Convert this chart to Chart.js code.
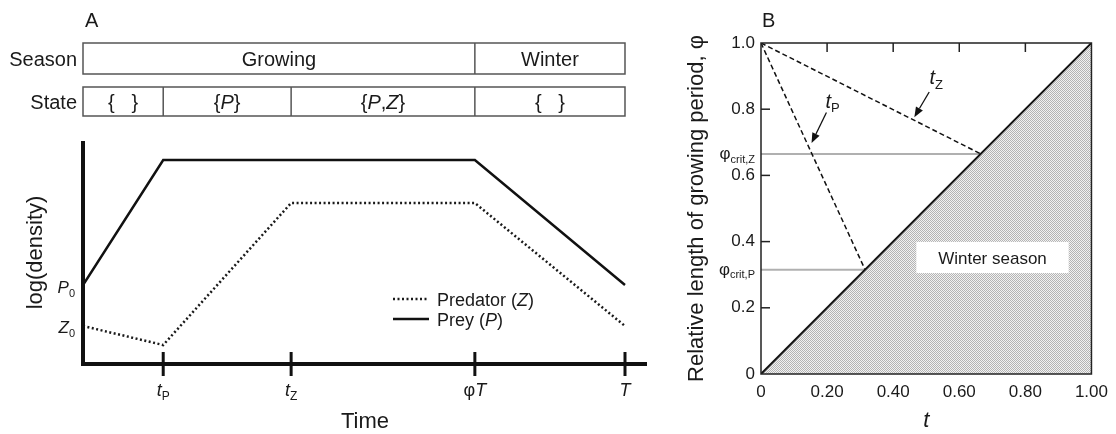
<!DOCTYPE html>
<html>
<head>
<meta charset="utf-8">
<script src="https://cdn.jsdelivr.net/npm/chart.js@4.4.0/dist/chart.umd.min.js"></script>
<style>
  body { margin: 0; background: #fff; }
  #wrap { position: relative; width: 1116px; height: 434px; }
  canvas { position: absolute; top: 0; }
  #panelA { left: 0; }
  #panelB { left: 680px; }
</style>
</head>
<body>
<div id="wrap">
  <canvas id="panelA" width="680" height="434"></canvas>
  <canvas id="panelB" width="436" height="434"></canvas>
</div>
<script>
var fontFamily = '"Liberation Sans", Arial, Helvetica, sans-serif';

// A: time course over one year (time in units of T)
var tickTimes   = [0.148, 0.384, 0.723, 1.0];          // tP, tZ, phiT, T
var tickLabels  = ['*t*_{P}', '*t*_{Z}', '\u03c6*T*', '*T*'];
var seasonNames = ['Growing', 'Winter'];
var stateNames  = ['{   }', '{*P*}', '{*P*,*Z*}', '{   }'];

var preyTime    = [0, 0.148, 0.723, 1.0];
var preyLogDens = [3.95, 10.2, 10.2, 3.95];
var predTime    = [0, 0.148, 0.384, 0.723, 1.0];
var predLogDens = [1.9, 0.95, 8.05, 8.05, 1.9];

// B: critical growing-period lengths
var phiCritP = 0.315;
var phiCritZ = 0.665;

function toPoints(xs, ys) {
  return xs.map(function (x, i) { return { x: x, y: ys[i] }; });
}

// tiny markup: *italic*, _{subscript}
function parseRich(str) {
  var runs = [], italic = false, sub = false, buf = '';
  function push() { if (buf) { runs.push({ text: buf, italic: italic, sub: sub }); buf = ''; } }
  for (var i = 0; i < str.length; i++) {
    var c = str[i];
    if (c === '*') { push(); italic = !italic; }
    else if (c === '_' && str[i + 1] === '{') { push(); sub = true; i++; }
    else if (c === '}' && sub) { push(); sub = false; }
    else buf += c;
  }
  push();
  return runs;
}

function drawRich(ctx, str, x, baseline, size, align, color) {
  var runs = parseRich(str);
  var subSize = Math.round(size * 0.64);
  var total = 0;
  runs.forEach(function (r) {
    r.font = (r.italic ? 'italic ' : '') + (r.sub ? subSize : size) + 'px ' + fontFamily;
    ctx.font = r.font;
    r.w = ctx.measureText(r.text).width;
    total += r.w;
  });
  var cx = align === 'center' ? x - total / 2 : align === 'right' ? x - total : x;
  ctx.save();
  ctx.fillStyle = color || '#1a1a1a';
  ctx.textAlign = 'left';
  ctx.textBaseline = 'alphabetic';
  runs.forEach(function (r) {
    ctx.font = r.font;
    ctx.fillText(r.text, cx, r.sub ? baseline + size * 0.22 : baseline);
    cx += r.w;
  });
  ctx.restore();
}

function drawRow(ctx, xs, edges, names, top, bottom, title, x0) {
  var left = xs.getPixelForValue(edges[0]);
  var right = xs.getPixelForValue(edges[edges.length - 1]);
  ctx.save();
  ctx.strokeStyle = '#555';
  ctx.lineWidth = 1.5;
  ctx.strokeRect(left, top, right - left, bottom - top);
  for (var i = 1; i < edges.length - 1; i++) {
    var x = xs.getPixelForValue(edges[i]);
    ctx.beginPath(); ctx.moveTo(x, top); ctx.lineTo(x, bottom); ctx.stroke();
  }
  ctx.restore();
  var base = (top + bottom) / 2 + 7.5;
  names.forEach(function (n, i) {
    var cx = (xs.getPixelForValue(edges[i]) + xs.getPixelForValue(edges[i + 1])) / 2;
    drawRich(ctx, n, cx, base, 20, 'center');
  });
  drawRich(ctx, title, x0 - 6, base, 20, 'right');
}

var timeAxes = {
  id: 'timeAxes',
  afterDraw: function (chart) {
    var ctx = chart.ctx, xs = chart.scales.x, ys = chart.scales.y, area = chart.chartArea;
    var x0 = xs.getPixelForValue(0), y0 = ys.getPixelForValue(0);

    ctx.save();
    ctx.strokeStyle = '#111';
    ctx.lineWidth = 4;
    ctx.beginPath();
    ctx.moveTo(x0, area.top);
    ctx.lineTo(x0, y0);
    ctx.lineTo(area.right, y0);
    ctx.stroke();
    ctx.lineWidth = 3;
    tickTimes.forEach(function (t, i) {
      var x = xs.getPixelForValue(t);
      ctx.beginPath(); ctx.moveTo(x, y0 - 12); ctx.lineTo(x, y0 + 12); ctx.stroke();
      drawRich(ctx, tickLabels[i], x, y0 + 32, 18, 'center');
    });
    ctx.restore();

    // initial densities
    drawRich(ctx, '*P*_{0}', x0 - 8, ys.getPixelForValue(preyLogDens[0]) + 8, 17, 'right');
    drawRich(ctx, '*Z*_{0}', x0 - 8, ys.getPixelForValue(predLogDens[0]) + 7, 17, 'right');

    // season / state strips share the time scale
    var T = tickTimes[3], phiT = tickTimes[2];
    drawRow(ctx, xs, [0, phiT, T], seasonNames, 43, 74, 'Season', x0);
    drawRow(ctx, xs, [0, tickTimes[0], tickTimes[1], phiT, T], stateNames, 87, 116, 'State', x0);

    // legend
    chart.data.datasets.forEach(function (ds, i) {
      var ly = 299 + i * 20;
      ctx.save();
      ctx.strokeStyle = ds.borderColor;
      ctx.lineWidth = ds.borderWidth;
      ctx.setLineDash(ds.borderDash || []);
      ctx.beginPath(); ctx.moveTo(393, ly); ctx.lineTo(429, ly); ctx.stroke();
      ctx.restore();
      drawRich(ctx, ds.label, 437, ly + 6.5, 18, 'left');
    });

    drawRich(ctx, 'A', 85, 27, 20, 'left');
    drawRich(ctx, 'Time', (x0 + area.right) / 2, 428, 22, 'center');
    ctx.save();
    ctx.translate(36, (area.top + y0) / 2);
    ctx.rotate(-Math.PI / 2);
    ctx.font = '22px ' + fontFamily;
    ctx.fillStyle = '#1a1a1a';
    ctx.textAlign = 'center';
    ctx.textBaseline = 'middle';
    ctx.fillText('log(density)', 0, 0);
    ctx.restore();
  }
};

new Chart(document.getElementById('panelA'), {
  type: 'line',
  data: {
    datasets: [{
      label: 'Predator (*Z*)',
      data: toPoints(predTime, predLogDens),
      borderColor: '#1a1a1a',
      borderWidth: 2.5,
      borderDash: [2, 2.5],
      pointRadius: 0,
      fill: false
    }, {
      label: 'Prey (*P*)',
      data: toPoints(preyTime, preyLogDens),
      borderColor: '#111',
      borderWidth: 2.5,
      pointRadius: 0,
      fill: false
    }]
  },
  options: {
    responsive: false,
    animation: false,
    layout: { padding: { left: 83, right: 33, top: 141, bottom: 70 } },
    plugins: { legend: { display: false }, tooltip: { enabled: false } },
    scales: {
      x: { type: 'linear', min: 0, max: 1.0406, display: false },
      y: { min: 0, max: 11.15, display: false }
    }
  },
  plugins: [timeAxes]
});

// ---- panel B ----
function stipple() {
  var c = document.createElement('canvas');
  c.width = 2; c.height = 2;
  var g = c.getContext('2d');
  g.fillStyle = '#f2f2f2'; g.fillRect(0, 0, 2, 2);
  g.fillStyle = '#b4b4b4'; g.fillRect(0, 0, 1, 1); g.fillRect(1, 1, 1, 1);
  return g.createPattern(c, 'repeat');
}

function arrow(ctx, x1, y1, x2, y2) {
  var a = Math.atan2(y2 - y1, x2 - x1), L = 10, W = 4;
  var bx = x2 - L * Math.cos(a), by = y2 - L * Math.sin(a);
  ctx.beginPath(); ctx.moveTo(x1, y1); ctx.lineTo(bx, by); ctx.stroke();
  ctx.beginPath();
  ctx.moveTo(x2, y2);
  ctx.lineTo(bx + W * Math.sin(a), by - W * Math.cos(a));
  ctx.lineTo(bx - W * Math.sin(a), by + W * Math.cos(a));
  ctx.closePath();
  ctx.fill();
}

var phaseFrame = {
  id: 'phaseFrame',
  afterDraw: function (chart) {
    var ctx = chart.ctx, xs = chart.scales.x, ys = chart.scales.y, a = chart.chartArea;
    function px(t) { return xs.getPixelForValue(t); }
    function py(p) { return ys.getPixelForValue(p); }

    ctx.save();
    // winter label box
    ctx.fillStyle = '#fff';
    ctx.fillRect(px(0.47), py(0.399), px(0.931) - px(0.47), py(0.305) - py(0.399));
    drawRich(ctx, 'Winter season', (px(0.47) + px(0.931)) / 2, py(0.333), 17, 'center');

    // frame and inward ticks
    ctx.strokeStyle = '#222';
    ctx.lineWidth = 1.5;
    ctx.strokeRect(a.left, a.top, a.right - a.left, a.bottom - a.top);
    [0.2, 0.4, 0.6, 0.8].forEach(function (v) {
      ctx.beginPath(); ctx.moveTo(px(v), a.top); ctx.lineTo(px(v), a.top + 9); ctx.stroke();
      ctx.beginPath(); ctx.moveTo(a.left, py(v)); ctx.lineTo(a.left + 9, py(v)); ctx.stroke();
    });

    // arrows to the t_P and t_Z curves
    ctx.fillStyle = '#111';
    ctx.strokeStyle = '#111';
    ctx.lineWidth = 1.3;
    arrow(ctx, px(0.198), py(0.79), px(0.153), py(0.698));
    arrow(ctx, px(0.509), py(0.852), px(0.464), py(0.776));
    ctx.restore();
    drawRich(ctx, '*t*_{P}', px(0.195), py(0.804), 20, 'left');
    drawRich(ctx, '*t*_{Z}', px(0.510), py(0.875), 20, 'left');

    // critical phi labels beside the axis
    drawRich(ctx, '\u03c6_{crit,Z}', a.left - 6, py(phiCritZ) + 5, 17, 'right');
    drawRich(ctx, '\u03c6_{crit,P}', a.left - 6, py(phiCritP) + 5, 17, 'right');
    drawRich(ctx, 'B', 82, 27, 20, 'left');
  }
};

var ctxB = document.getElementById('panelB').getContext('2d');
new Chart(ctxB, {
  type: 'line',
  data: {
    datasets: [{
      label: 'winter',
      data: toPoints([0, 1], [0, 1]),
      borderColor: '#111',
      borderWidth: 2,
      backgroundColor: stipple(),
      fill: 'origin',
      pointRadius: 0
    }, {
      label: 'tP',
      data: toPoints([0, phiCritP], [1, phiCritP]),
      borderColor: '#111',
      borderWidth: 1.5,
      borderDash: [5, 3],
      pointRadius: 0,
      fill: false
    }, {
      label: 'tZ',
      data: toPoints([0, phiCritZ], [1, phiCritZ]),
      borderColor: '#111',
      borderWidth: 1.5,
      borderDash: [5, 3],
      pointRadius: 0,
      fill: false
    }, {
      label: 'phiCritP',
      data: toPoints([0, phiCritP], [phiCritP, phiCritP]),
      borderColor: '#b0b0b0',
      borderWidth: 2,
      pointRadius: 0,
      fill: false
    }, {
      label: 'phiCritZ',
      data: toPoints([0, phiCritZ], [phiCritZ, phiCritZ]),
      borderColor: '#b0b0b0',
      borderWidth: 2,
      pointRadius: 0,
      fill: false
    }]
  },
  options: {
    responsive: false,
    animation: false,
    layout: { padding: { left: 0, right: 21, top: 43, bottom: 0 } },
    plugins: { legend: { display: false }, tooltip: { enabled: false } },
    scales: {
      x: {
        type: 'linear', min: 0, max: 1,
        afterFit: function (s) { s.height = 60; },
        grid: { display: false, drawTicks: false },
        border: { display: false },
        ticks: {
          stepSize: 0.2, padding: 8, color: '#1a1a1a',
          font: { family: fontFamily, size: 17 },
          callback: function (v) { return v === 0 ? '0' : v.toFixed(2); }
        },
        title: {
          display: true, text: 't', color: '#1a1a1a',
          font: { family: fontFamily, size: 22, style: 'italic' },
          padding: { top: 0, bottom: 0 }
        }
      },
      y: {
        min: 0, max: 1,
        afterFit: function (s) { s.width = 81; },
        grid: { display: false, drawTicks: false },
        border: { display: false },
        ticks: {
          stepSize: 0.2, padding: 6, color: '#1a1a1a',
          font: { family: fontFamily, size: 17 },
          callback: function (v) { return v === 0 ? '0' : v.toFixed(1); }
        },
        title: {
          display: true, text: 'Relative length of growing period, \u03c6', color: '#1a1a1a',
          font: { family: fontFamily, size: 22 },
          padding: { top: 4, bottom: 0 }
        }
      }
    }
  },
  plugins: [phaseFrame]
});
</script>
</body>
</html>
